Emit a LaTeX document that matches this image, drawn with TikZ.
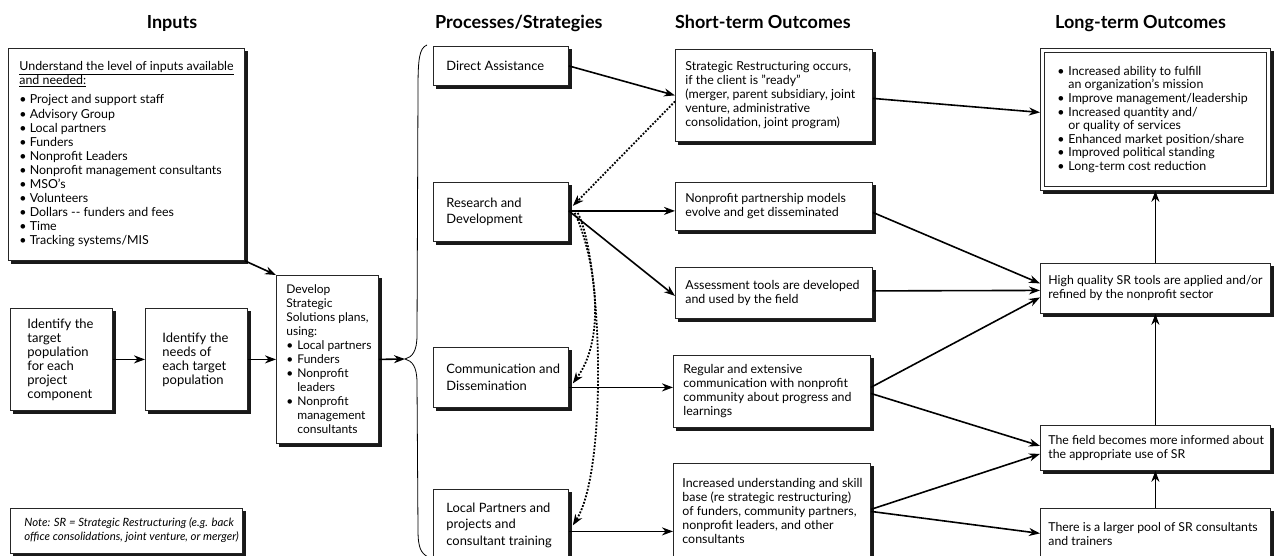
\documentclass[tikz,border=0pt]{standalone}
\usepackage{fontspec}
\setmainfont{Lato}
\usetikzlibrary{arrows.meta,calc}
% \bxc[vpos]{total width}{left pad}{height}{text}
\newcommand\bxc[5][c]{\makebox[#2][l]{\hspace*{#3}\parbox[c][#4][#1]{\dimexpr #2-#3-1pt\relax}{\raggedright #5}}}
\newcommand\fsIn{\fontsize{12.4}{14.1}\selectfont}
\newcommand\fsId{\fontsize{13}{14}\selectfont}
\newcommand\fsDv{\fontsize{12}{14}\selectfont}
\newcommand\fsPr{\fontsize{12.9}{16.5}\selectfont}
\newcommand\fsSh{\fontsize{12.4}{14}\selectfont}
\newcommand\fsLo{\fontsize{12.3}{14}\selectfont}
\newcommand\fsOut{\fontsize{12.4}{13.6}\selectfont}
\newcommand\fsNote{\fontsize{11.4}{14}\selectfont\itshape}
\newcommand\bl{\makebox[11pt][l]{\textbullet}}
\newcommand\bi{\hspace*{11pt}}
\newcommand\shad[1]{\fill[black!90] ([shift={(0pt,-3pt)}]#1.north east) -- ([shift={(3pt,-3pt)}]#1.north east)
  -- ([shift={(3pt,-3pt)}]#1.south east) -- ([shift={(3pt,-3pt)}]#1.south west)
  -- ([shift={(3pt,0pt)}]#1.south west) -- (#1.south east) -- cycle;}
\tikzset{
  box/.style={draw=black!85, line width=0.8pt, fill=white, anchor=north west, inner sep=0pt},
  conn/.style={line width=1.6pt, -{Stealth[length=11pt,width=8pt,inset=3.5pt]}},
  dotconn/.style={line width=1.8pt, dash pattern=on 1.8pt off 1.6pt,
    -{Stealth[length=11pt,width=8pt,inset=3.5pt]}},
  hdr/.style={font=\bfseries\fontsize{18}{20}\selectfont, inner sep=0pt, anchor=base west},
  bracestyle/.style={line width=0.8pt}
}
\begin{document}
\begin{tikzpicture}[x=1pt,y=-1pt]
\useasboundingbox (0,0) rectangle (1275,555);
\clip (0,0) rectangle (1275,555);
\fill[white] (0,0) rectangle (1275,555);

% headers
\node[hdr, anchor=base] (hIn) at (172,28) {Inputs};
\node[hdr] (hPr) at (435,28) {Processes/Strategies};
\node[hdr] (hSh) at (675,28) {Short-term Outcomes};
\node[hdr] (hLo) at (1055,28) {Long-term Outcomes};

% inputs column
\node[box, font=\fsIn] (inputs) at (8,48) {\bxc{236pt}{11pt}{212pt}{%
\underline{Understand the level of inputs available}\\
\underline{and needed:}\\[5pt]
\textbullet\ Project and support staff\\
\textbullet\ Advisory Group\\
\textbullet\ Local partners\\
\textbullet\ Funders\\
\textbullet\ Nonprofit Leaders\\
\textbullet\ Nonprofit management consultants\\
\textbullet\ MSO\char39 s\\
\textbullet\ Volunteers\\
\textbullet\ Dollars -{}- funders and fees\\
\textbullet\ Time\\
\textbullet\ Tracking systems/MIS}};
\shad{inputs}

\node[box, font=\fsId] (target) at (10,308) {\bxc{102pt}{17pt}{102pt}{%
Identify the\\target\\population\\for each\\project\\component}};
\shad{target}
\node[box, font=\fsId] (needs) at (145,308) {\bxc{102pt}{17pt}{102pt}{%
Identify the\\needs of\\each target\\population}};
\shad{needs}
\node[box, font=\fsDv] (develop) at (276,275) {\bxc{102pt}{10pt}{168pt}{%
Develop\\Strategic\\Solutions plans,\\using:\\
\bl Local partners\\\bl Funders\\\bl Nonprofit\\\bi leaders\\\bl Nonprofit\\\bi management\\\bi consultants}};
\shad{develop}

\node[box, font=\fsNote] (note) at (10,508) {\bxc[t]{232pt}{14pt}{45pt}{%
\rule{0pt}{18pt}Note: SR = Strategic Restructuring (e.g. back\\
office consolidations, joint venture, or merger)}};
\shad{note}

% brace
\coordinate (bracetip) at (405,359);
\draw[bracestyle] (427,45) .. controls (419,48) and (418,60) .. (418,90)
  -- (417,335) .. controls (417,352) and (412,357) .. (bracetip)
  .. controls (412,361) and (417,366) .. (417,383)
  -- (418,530) .. controls (418,548) and (421,553) .. (428,557);

% processes
\node[box, font=\fsPr] (da) at (433,46) {\bxc{135pt}{13pt}{39pt}{Direct Assistance}};
\shad{da}
\node[box, font=\fsPr] (rd) at (433,182) {\bxc{135pt}{13pt}{59pt}{Research and\\Development}};
\shad{rd}
\node[box, font=\fsPr] (cd) at (433,347) {\bxc{135pt}{13pt}{60pt}{Communication and\\Dissemination}};
\shad{cd}
\node[box, font=\fsPr] (lp) at (433,489) {\bxc{135pt}{13pt}{72pt}{Local Partners and\\projects and\\consultant training}};
\shad{lp}

% short-term
\node[box, font=\fsSh] (sro) at (675,49) {\bxc{197pt}{10pt}{92pt}{%
Strategic Restructuring occurs,\\if the client is \char34 ready\char34\\(merger, parent subsidiary, joint\\venture, administrative\\consolidation, joint program)}};
\shad{sro}
\node[box, font=\fsSh] (npm) at (675,182) {\bxc{197pt}{10pt}{48pt}{%
Nonprofit partnership models\\evolve and get disseminated}};
\shad{npm}
\node[box, font=\fsSh] (at) at (675,267) {\bxc{197pt}{10pt}{51pt}{%
Assessment tools are developed\\and used by the field}};
\shad{at}
\node[box, font=\fsSh] (reg) at (673,355) {\bxc{197pt}{10pt}{72pt}{%
Regular and extensive\\communication with nonprofit\\community about progress and\\learnings}};
\shad{reg}
\node[box, font=\fsSh] (inc) at (673,463) {\bxc{197pt}{9pt}{96pt}{%
Increased understanding and skill\\base (re strategic restructuring)\\of funders, community partners,\\nonprofit leaders, and other\\consultants}};
\shad{inc}

% long-term
\node[box, font=\fsOut] (out) at (1040,48) {\bxc{230pt}{17pt}{142pt}{%
\bl Increased ability to fulfill\\\bi an organization\char39 s mission\\
\bl Improve management/leadership\\
\bl Increased quantity and/\\\bi or quality of services\\
\bl Enhanced market position/share\\
\bl Improved political standing\\
\bl Long-term cost reduction}};
\shad{out}
\draw[line width=0.8pt, black!85] ([shift={(4pt,-4pt)}]out.north west) rectangle ([shift={(-4pt,4pt)}]out.south east);
\node[box, font=\fsLo] (hq) at (1040,263) {\bxc{230pt}{8pt}{50pt}{%
High quality SR tools are applied and/or\\refined by the nonprofit sector}};
\shad{hq}
\node[box, font=\fsLo] (field) at (1040,425) {\bxc{230pt}{8pt}{45pt}{%
The field becomes more informed about\\the appropriate use of SR}};
\shad{field}
\node[box, font=\fsLo] (pool) at (1040,508) {\bxc{230pt}{8pt}{52pt}{%
There is a larger pool of SR consultants\\and trainers}};
\shad{pool}

% connectors: inputs
\draw[conn] (inputs.south east) -- (develop.north west);
\draw[conn] (target.east) -- (needs.west);
\draw[conn] (needs.east) -- (needs.east -| develop.west);
\draw[conn] (needs.east -| develop.east) -- (bracetip);

% processes -> short-term
\draw[conn] (da.east) -- (sro.west);
\coordinate (rdout) at ($(rd.east)+(0,-1)$);
\draw[conn] (rdout) -- (rdout -| npm.west);
\draw[conn] (rdout) -- ($(at.west)+(0,3)$);
\coordinate (cdout) at ($(cd.east)+(0,10)$);
\draw[conn] (cdout) -- (cdout -| reg.west);
\coordinate (lpout) at ($(lp.east)+(0,6)$);
\draw[conn] (lpout) -- (lpout -| inc.west);

% dotted feedback
\draw[dotconn] ($(sro.west)+(0,6)$) -- ($(rd.east)+(4,-6)$);
\draw[dotconn] ($(rd.east)+(6,1)$) .. controls (588,240) and (612,330) .. ($(cd.east)+(4,6)$);
\draw[dotconn] ($(rd.east)+(9,1)$) .. controls (602,260) and (608,470) .. ($(lp.east)+(4,0)$);

% short-term -> long-term
\draw[conn] ($(sro.east)+(0,3)$) -- ($(out.west)+(0,-7)$);
\draw[conn] ($(npm.east)+(0,6)$) -- ($(hq.west)+(0,-5)$);
\draw[conn] ($(at.east)+(0,-2)$) -- ($(hq.west)+(0,2)$);
\draw[conn] ($(reg.east)+(0,-4)$) -- ($(hq.west)+(0,9)$);
\draw[conn] ($(reg.east)+(0,2)$) -- ($(field.west)+(0,-2)$);
\draw[conn] ($(inc.east)+(0,-2)$) -- ($(field.west)+(0,6)$);
\draw[conn] (inc.east) -- ($(pool.west)+(0,-1)$);

% long-term verticals
\draw[conn] (field.north) -- (hq.south);
\draw[conn] (pool.north) -- (field.south);
\draw[conn] (hq.north) -- (out.south);
\end{tikzpicture}
\end{document}
